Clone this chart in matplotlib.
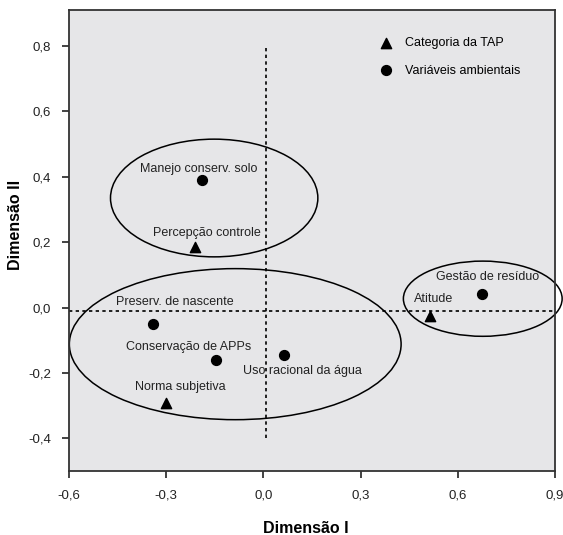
import matplotlib
matplotlib.use("Agg")
import matplotlib.pyplot as plt
from matplotlib.patches import Ellipse

plt.rcParams["font.family"] = ["Liberation Sans", "DejaVu Sans"]

# variables (circles) and TAP categories (triangles)
var_names = ["Manejo conserv. solo", "Preserv. de nascente", "Conservação de APPs",
             "Uso racional da água", "Gestão de resíduo"]
var_x = [-0.189, -0.340, -0.146, 0.062, 0.675]
var_y = [0.389, -0.050, -0.159, -0.145, 0.040]

cat_names = ["Percepção controle", "Norma subjetiva", "Atitude"]
cat_x = [-0.211, -0.300, 0.514]
cat_y = [0.185, -0.292, -0.025]

# label positions (data coords)
var_lab_x = [-0.199, -0.274, -0.230, 0.119, 0.693]
var_lab_y = [0.423, 0.016, -0.120, -0.194, 0.093]
cat_lab_x = [-0.176, -0.258, 0.526]
cat_lab_y = [0.229, -0.243, 0.027]

# groups drawn as ellipses: centre x, centre y, width, height
groups_cx = [-0.152, -0.087, 0.677]
groups_cy = [0.335, -0.112, 0.027]
groups_w = [0.64, 1.024, 0.49]
groups_h = [0.36, 0.462, 0.23]

fig = plt.figure(figsize=(5.63, 5.35), dpi=100)
ax = fig.add_axes([0.1226, 0.1196, 0.8632, 0.8617])
ax.set_facecolor("#e6e6e8")

ax.set_xlim(-0.6, 0.9)
ax.set_ylim(-0.5, 0.91)

# reference lines
ax.plot([0.007, 0.007], [-0.4, 0.8], color="black", linestyle=(0, (2, 2)), linewidth=1.2)
ax.plot([-0.6, 0.9], [-0.01, -0.01], color="black", linestyle=(0, (2, 2)), linewidth=1.2)

for cx, cy, w, h in zip(groups_cx, groups_cy, groups_w, groups_h):
    e = Ellipse((cx, cy), w, h, fill=False, edgecolor="black", linewidth=1.1, clip_on=False)
    ax.add_patch(e)

ax.scatter(cat_x, cat_y, marker="^", s=55, color="black", label="Categoria da TAP", zorder=3)
ax.scatter(var_x, var_y, marker="o", s=50, color="black", label="Variáveis ambientais", zorder=3)

for name, x, y in zip(var_names, var_lab_x, var_lab_y):
    ax.text(x, y, name, ha="center", va="center", fontsize=9, color="#222222")
for name, x, y in zip(cat_names, cat_lab_x, cat_lab_y):
    ax.text(x, y, name, ha="center", va="center", fontsize=9, color="#222222")

ax.legend(loc="upper left", bbox_to_anchor=(0.627, 0.952), frameon=False, fontsize=9,
          handletextpad=0.9, labelspacing=1.25, borderaxespad=0, handlelength=1.2)

xt = [-0.6, -0.3, 0.0, 0.3, 0.6, 0.9]
yt = [-0.4, -0.2, 0.0, 0.2, 0.4, 0.6, 0.8]
ax.set_xticks(xt)
ax.set_xticklabels([f"{v:.1f}".replace(".", ",") for v in xt])
ax.set_yticks(yt)
ax.set_yticklabels([f"{v:.1f}".replace(".", ",") for v in yt])
ax.tick_params(direction="out", length=5, width=1.2, labelsize=9.5, colors="#222222", pad=8)

for s in ax.spines.values():
    s.set_color("#333333")
    s.set_linewidth(1.3)

ax.set_xlabel("Dimensão I", fontsize=11.5, fontweight="bold")
ax.set_ylabel("Dimensão II", fontsize=11.5, fontweight="bold")
ax.xaxis.set_label_coords(0.488, -0.108)
ax.yaxis.set_label_coords(-0.095, 0.534)

fig.savefig("out.png", dpi=100)
